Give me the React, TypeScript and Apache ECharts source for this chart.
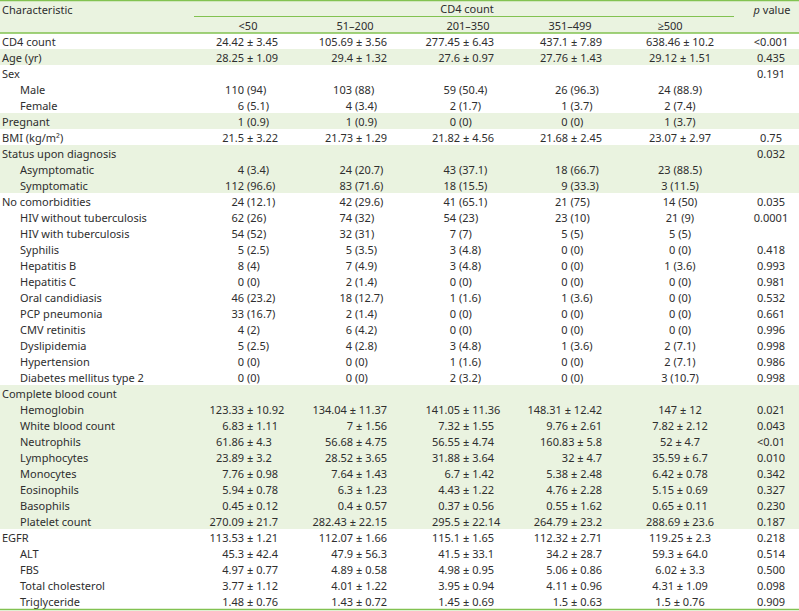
import React, { useEffect, useRef } from "react";
import * as echarts from "echarts";

const rowLabels = [
  "CD4 count", "Age (yr)", "Sex", "Male", "Female", "Pregnant", "BMI (kg/m²)",
  "Status upon diagnosis", "Asymptomatic", "Symptomatic", "No comorbidities",
  "HIV without tuberculosis", "HIV with tuberculosis", "Syphilis", "Hepatitis B",
  "Hepatitis C", "Oral candidiasis", "PCP pneumonia", "CMV retinitis", "Dyslipidemia",
  "Hypertension", "Diabetes mellitus type 2", "Complete blood count", "Hemoglobin",
  "White blood count", "Neutrophils", "Lymphocytes", "Monocytes", "Eosinophils",
  "Basophils", "Platelet count", "EGFR", "ALT", "FBS", "Total cholesterol", "Triglyceride",
];

const groupHeaders = ["<50", "51–200", "201–350", "351–499", "≥500"];

const cd4Lt50 = [
  "24.42 ± 3.45", "28.25 ± 1.09", "", "110 (94)", "6 (5.1)", "1 (0.9)", "21.5 ± 3.22",
  "", "4 (3.4)", "112 (96.6)", "24 (12.1)", "62 (26)", "54 (52)", "5 (2.5)", "8 (4)",
  "0 (0)", "46 (23.2)", "33 (16.7)", "4 (2)", "5 (2.5)", "0 (0)", "0 (0)", "",
  "123.33 ± 10.92", "6.83 ± 1.11", "61.86 ± 4.3", "23.89 ± 3.2", "7.76 ± 0.98",
  "5.94 ± 0.78", "0.45 ± 0.12", "270.09 ± 21.7", "113.53 ± 1.21", "45.3 ± 42.4",
  "4.97 ± 0.77", "3.77 ± 1.12", "1.48 ± 0.76",
];

const cd4_51_200 = [
  "105.69 ± 3.56", "29.4 ± 1.32", "", "103 (88)", "4 (3.4)", "1 (0.9)", "21.73 ± 1.29",
  "", "24 (20.7)", "83 (71.6)", "42 (29.6)", "74 (32)", "32 (31)", "5 (3.5)", "7 (4.9)",
  "2 (1.4)", "18 (12.7)", "2 (1.4)", "6 (4.2)", "4 (2.8)", "0 (0)", "0 (0)", "",
  "134.04 ± 11.37", "7 ± 1.56", "56.68 ± 4.75", "28.52 ± 3.65", "7.64 ± 1.43",
  "6.3 ± 1.23", "0.4 ± 0.57", "282.43 ± 22.15", "112.07 ± 1.66", "47.9 ± 56.3",
  "4.89 ± 0.58", "4.01 ± 1.22", "1.43 ± 0.72",
];

const cd4_201_350 = [
  "277.45 ± 6.43", "27.6 ± 0.97", "", "59 (50.4)", "2 (1.7)", "0 (0)", "21.82 ± 4.56",
  "", "43 (37.1)", "18 (15.5)", "41 (65.1)", "54 (23)", "7 (7)", "3 (4.8)", "3 (4.8)",
  "0 (0)", "1 (1.6)", "0 (0)", "0 (0)", "3 (4.8)", "1 (1.6)", "2 (3.2)", "",
  "141.05 ± 11.36", "7.32 ± 1.55", "56.55 ± 4.74", "31.88 ± 3.64", "6.7 ± 1.42",
  "4.43 ± 1.22", "0.37 ± 0.56", "295.5 ± 22.14", "115.1 ± 1.65", "41.5 ± 33.1",
  "4.98 ± 0.95", "3.95 ± 0.94", "1.45 ± 0.69",
];

const cd4_351_499 = [
  "437.1 ± 7.89", "27.76 ± 1.43", "", "26 (96.3)", "1 (3.7)", "0 (0)", "21.68 ± 2.45",
  "", "18 (66.7)", "9 (33.3)", "21 (75)", "23 (10)", "5 (5)", "0 (0)", "0 (0)",
  "0 (0)", "1 (3.6)", "0 (0)", "0 (0)", "1 (3.6)", "0 (0)", "0 (0)", "",
  "148.31 ± 12.42", "9.76 ± 2.61", "160.83 ± 5.8", "32 ± 4.7", "5.38 ± 2.48",
  "4.76 ± 2.28", "0.55 ± 1.62", "264.79 ± 23.2", "112.32 ± 2.71", "34.2 ± 28.7",
  "5.06 ± 0.86", "4.11 ± 0.96", "1.5 ± 0.63",
];

const cd4Ge500 = [
  "638.46 ± 10.2", "29.12 ± 1.51", "", "24 (88.9)", "2 (7.4)", "1 (3.7)", "23.07 ± 2.97",
  "", "23 (88.5)", "3 (11.5)", "14 (50)", "21 (9)", "5 (5)", "0 (0)", "1 (3.6)",
  "0 (0)", "0 (0)", "0 (0)", "0 (0)", "2 (7.1)", "2 (7.1)", "3 (10.7)", "",
  "147 ± 12", "7.82 ± 2.12", "52 ± 4.7", "35.59 ± 6.7", "6.42 ± 0.78",
  "5.15 ± 0.69", "0.65 ± 0.11", "288.69 ± 23.6", "119.25 ± 2.3", "59.3 ± 64.0",
  "6.02 ± 3.3", "4.31 ± 1.09", "1.5 ± 0.76",
];

const pValues = [
  "<0.001", "0.435", "0.191", "", "", "", "0.75", "0.032", "", "", "0.035", "0.0001", "",
  "0.418", "0.993", "0.981", "0.532", "0.661", "0.996", "0.998", "0.986", "0.998", "",
  "0.021", "0.043", "<0.01", "0.010", "0.342", "0.327", "0.230", "0.187", "0.218",
  "0.514", "0.500", "0.098", "0.909",
];

const valueColumns = [cd4Lt50, cd4_51_200, cd4_201_350, cd4_351_499, cd4Ge500, pValues];

// Row styling (not data)
const shadedRows = [1, 5, 7, 8, 9, 22, 23, 24, 25, 26, 27, 28, 29, 30];
const indentedRows = [3, 4, 8, 9, 11, 12, 13, 14, 15, 16, 17, 18, 19, 20, 21, 23, 24, 25, 26, 27, 28, 29, 30, 32, 33, 34, 35];

const W = 799;
const H = 611;
const HEADER_H = 33;
const BOTTOM = 609;
const GREEN = "#82c251";
const FILL = "#eaf3e0";
const TEXT = "#2e2e2e";
const FONT_FAMILY = "'Noto Sans', 'Open Sans', sans-serif";
const FONT_SIZE = 11;

type Align = { mode: "split" | "right" | "center"; x: number };
const columnLayout: { pm: Align; np: Align; head: number }[] = [
  { pm: { mode: "split", x: 244 }, np: { mode: "split", x: 244 }, head: 248 },
  { pm: { mode: "right", x: 387 }, np: { mode: "split", x: 352 }, head: 355 },
  { pm: { mode: "split", x: 460 }, np: { mode: "split", x: 456 }, head: 468 },
  { pm: { mode: "right", x: 602 }, np: { mode: "split", x: 567.5 }, head: 570 },
  { pm: { mode: "center", x: 680 }, np: { mode: "center", x: 680 }, head: 670 },
  { pm: { mode: "center", x: 771 }, np: { mode: "center", x: 771 }, head: 772 },
];

function textStyle(text: string, align: string) {
  return {
    text,
    fill: TEXT,
    fontSize: FONT_SIZE,
    fontFamily: FONT_FAMILY,
    align,
    verticalAlign: "middle",
  };
}

export default function App() {
  const ref = useRef<HTMLDivElement>(null);

  useEffect(() => {
    if (!ref.current) return;
    const chart = echarts.init(ref.current, undefined, { renderer: "svg", width: W, height: H });

    const cellData: number[][] = [];
    rowLabels.forEach((_, r) => {
      cellData.push([-1, r]);
      valueColumns.forEach((col, c) => {
        if (col[r]) cellData.push([c, r]);
      });
    });

    const shadeData = shadedRows.map((r) => [0, r]);

    const option: any = {
      animation: false,
      backgroundColor: "#ffffff",
      grid: { left: 0, right: 0, top: HEADER_H, bottom: H - BOTTOM, containLabel: false },
      xAxis: { type: "value", min: 0, max: W, show: false },
      yAxis: { type: "category", data: rowLabels, inverse: true, show: false },
      series: [
        {
          type: "custom",
          coordinateSystem: "cartesian2d",
          data: shadeData,
          encode: { x: 0, y: 1 },
          silent: true,
          z: 1,
          renderItem: (params: any, api: any) => {
            const r = api.value(1);
            const p = api.coord([0, r]);
            const h = api.size([0, 1])[1];
            return {
              type: "rect",
              shape: { x: 0, y: p[1] - h / 2, width: W, height: h },
              style: { fill: FILL },
            };
          },
        },
        {
          type: "custom",
          coordinateSystem: "cartesian2d",
          data: cellData,
          encode: { x: 0, y: 1 },
          silent: true,
          z: 3,
          renderItem: (params: any, api: any) => {
            const c = api.value(0);
            const r = api.value(1);
            const cy = api.coord([0, r])[1];
            if (c === -1) {
              const x = indentedRows.includes(r) ? 20 : 2;
              return { type: "text", x, y: cy, style: textStyle(rowLabels[r], "left") };
            }
            const txt = valueColumns[c][r];
            const isPm = txt.includes("±");
            const lay = isPm ? columnLayout[c].pm : columnLayout[c].np;
            const ax = api.coord([lay.x, r])[0];
            if (lay.mode === "split") {
              const i = txt.indexOf(" ");
              const head = i >= 0 ? txt.slice(0, i) : txt;
              const tail = i >= 0 ? txt.slice(i + 1) : "";
              return {
                type: "group",
                children: [
                  { type: "text", x: ax, y: cy, style: textStyle(head, "right") },
                  { type: "text", x: ax + 3, y: cy, style: textStyle(tail, "left") },
                ],
              };
            }
            return {
              type: "text",
              x: ax,
              y: cy,
              style: textStyle(txt, lay.mode === "right" ? "right" : "center"),
            };
          },
        },
      ],
      graphic: [
        { type: "rect", shape: { x: 0, y: 0, width: W, height: HEADER_H }, style: { fill: FILL }, z: 1 },
        { type: "line", shape: { x1: 0, y1: 0.5, x2: W, y2: 0.5 }, style: { stroke: GREEN, lineWidth: 1.5 }, z: 5 },
        { type: "line", shape: { x1: 194, y1: 16.5, x2: 734, y2: 16.5 }, style: { stroke: GREEN, lineWidth: 1 }, z: 5 },
        { type: "line", shape: { x1: 0, y1: HEADER_H, x2: W, y2: HEADER_H }, style: { stroke: GREEN, lineWidth: 1.5 }, z: 5 },
        { type: "line", shape: { x1: 0, y1: BOTTOM + 0.5, x2: W, y2: BOTTOM + 0.5 }, style: { stroke: GREEN, lineWidth: 1.5 }, z: 5 },
        { type: "text", x: 2, y: 9, style: textStyle("Characteristic", "left"), z: 5 },
        { type: "text", x: 467, y: 8.5, style: textStyle("CD4 count", "center"), z: 5 },
        {
          type: "text",
          x: 772,
          y: 9,
          z: 5,
          style: {
            text: "{i|p} value",
            fill: TEXT,
            fontSize: FONT_SIZE,
            fontFamily: FONT_FAMILY,
            align: "center",
            verticalAlign: "middle",
            rich: {
              i: { fontStyle: "italic", fontSize: FONT_SIZE, fontFamily: FONT_FAMILY, fill: TEXT },
            },
          },
        },
        ...groupHeaders.map((g, i) => ({
          type: "text",
          x: columnLayout[i].head,
          y: 25,
          z: 5,
          style: textStyle(g, "center"),
        })),
      ],
    };

    chart.setOption(option);
    return () => chart.dispose();
  }, []);

  return (
    <div
      ref={ref}
      style={{ position: "fixed", left: 0, top: 0, width: W, height: H, background: "#fff" }}
    />
  );
}
